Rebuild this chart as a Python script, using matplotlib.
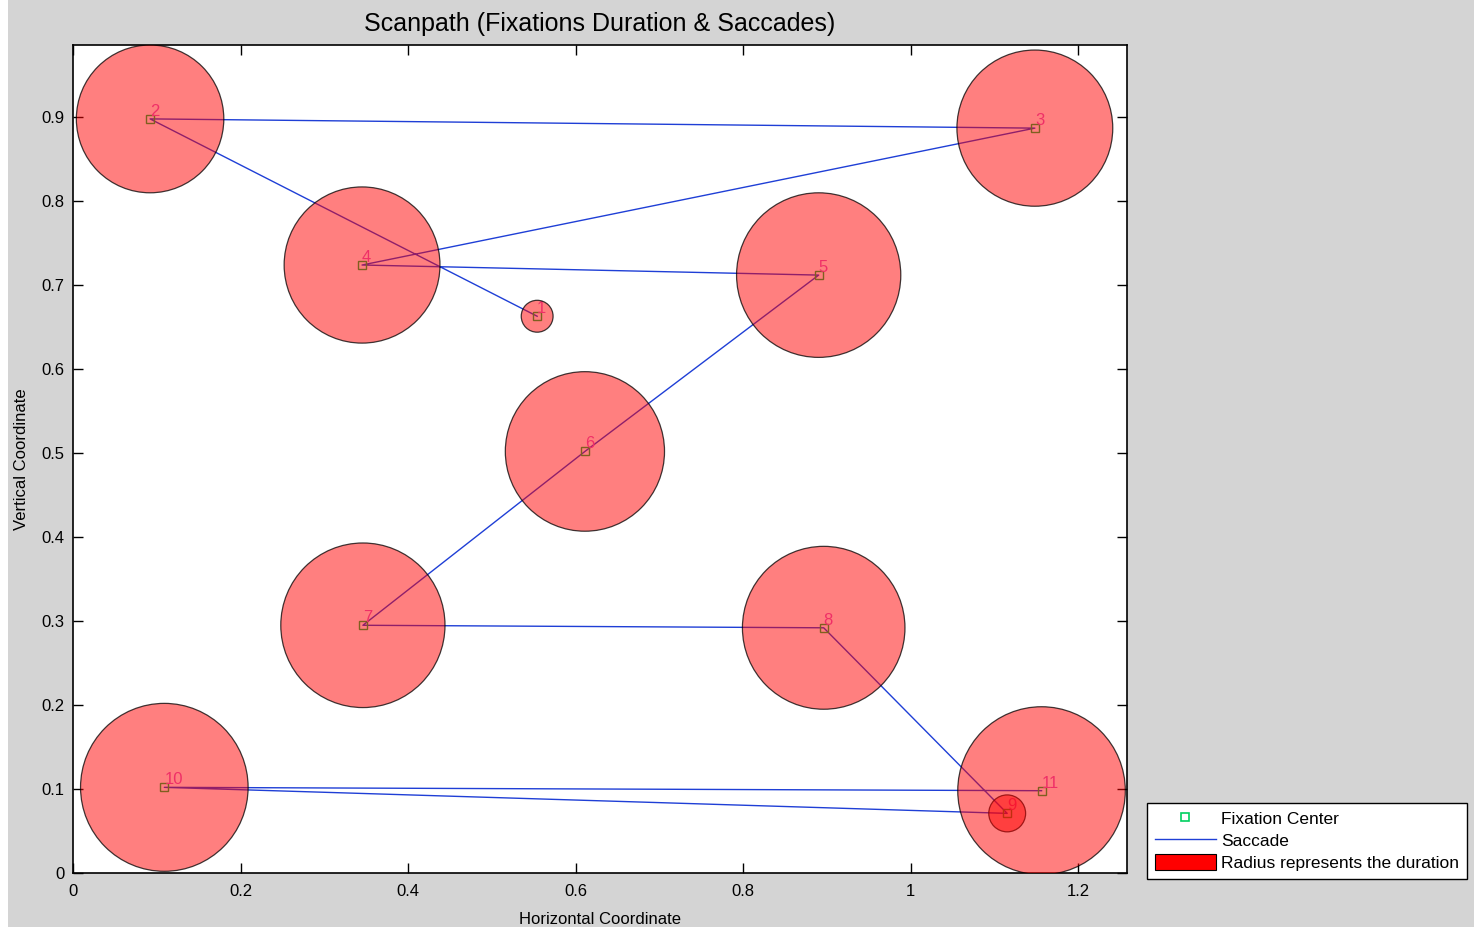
import matplotlib
matplotlib.use("Agg")
import matplotlib.pyplot as plt
from matplotlib.patches import Circle, Patch, Rectangle
from matplotlib.lines import Line2D

plt.rcParams["font.family"] = ["Liberation Sans", "DejaVu Sans"]

# Fixation centres in visiting order, with the radius standing for duration
fix_id = [1, 2, 3, 4, 5, 6, 7, 8, 9, 10, 11]
fix_x = [0.554, 0.092, 1.148, 0.345, 0.890, 0.611, 0.346, 0.896, 1.115, 0.109, 1.156]
fix_y = [0.663, 0.898, 0.887, 0.724, 0.712, 0.502, 0.295, 0.292, 0.071, 0.102, 0.098]
fix_r = [0.019, 0.088, 0.093, 0.093, 0.098, 0.095, 0.098, 0.097, 0.022, 0.100, 0.100]

x_ticks = [0, 0.2, 0.4, 0.6, 0.8, 1, 1.2]
y_ticks = [0, 0.1, 0.2, 0.3, 0.4, 0.5, 0.6, 0.7, 0.8, 0.9]

BG = "#d4d4d4"

fig = plt.figure(figsize=(14.74, 9.27), dpi=100, facecolor=BG)
fig.patches.append(Rectangle((0, 0), 8 / 1474, 1, transform=fig.transFigure,
                             facecolor="white", edgecolor="none", zorder=0))
ax = fig.add_axes([73 / 1474, 54 / 927, 1054 / 1474, 828 / 927])
ax.set_facecolor("white")

# saccades between consecutive fixations
ax.plot(fix_x, fix_y, color="#1f3fd6", lw=1.0, zorder=2)
ax.plot(fix_x, fix_y, ls="none", marker="s", ms=6, mfc="none",
        mec="#00c040", mew=1.0, zorder=3)

for i, x, y in zip(fix_id, fix_x, fix_y):
    ax.annotate(str(i), (x, y), xytext=(0, 0), textcoords="offset points",
                ha="left", va="bottom", fontsize=12, color="#e060d0", zorder=3)

for x, y, r in zip(fix_x, fix_y, fix_r):
    ax.add_patch(Circle((x, y), r, facecolor=(1, 0, 0, 0.5),
                        edgecolor=(0, 0, 0, 0.75), lw=0.9, zorder=4))

ax.set_xlim(0, 1.258)
ax.set_ylim(0, 0.986)
ax.set_xticks(x_ticks)
ax.set_xticklabels(["0", "0.2", "0.4", "0.6", "0.8", "1", "1.2"])
ax.set_yticks(y_ticks)
ax.set_yticklabels(["0", "0.1", "0.2", "0.3", "0.4", "0.5", "0.6", "0.7", "0.8", "0.9"])
ax.tick_params(direction="in", top=True, right=True, length=7, width=1,
               labelsize=12)
ax.tick_params(axis="x", pad=8)
ax.tick_params(axis="y", pad=6)
for s in ax.spines.values():
    s.set_linewidth(1.2)

ax.set_title("Scanpath (Fixations Duration & Saccades)", fontsize=18, pad=10)
ax.set_xlabel("Horizontal Coordinate", fontsize=12, labelpad=9)
ax.set_ylabel("Vertical Coordinate", fontsize=12, labelpad=9)

handles = [
    Line2D([], [], ls="none", marker="s", ms=6, mfc="none", mec="#00d060", mew=1.2),
    Line2D([], [], color="#1f3fd6", lw=1.0),
    Patch(facecolor="#ff0000", edgecolor="black", lw=0.8),
]
labels = ["Fixation Center", "Saccade", "Radius represents the duration"]
leg = fig.legend(handles, labels, loc="lower left",
                 bbox_to_anchor=(1147 / 1474, 48 / 927), fontsize=12.5,
                 frameon=True, fancybox=False, framealpha=1,
                 borderpad=0.45, labelspacing=0.3, handlelength=3.5,
                 handleheight=1.0, handletextpad=0.3, borderaxespad=0)
leg.get_frame().set_edgecolor("black")
leg.get_frame().set_linewidth(1.0)

fig.savefig("out.png", dpi=100, facecolor=BG)
